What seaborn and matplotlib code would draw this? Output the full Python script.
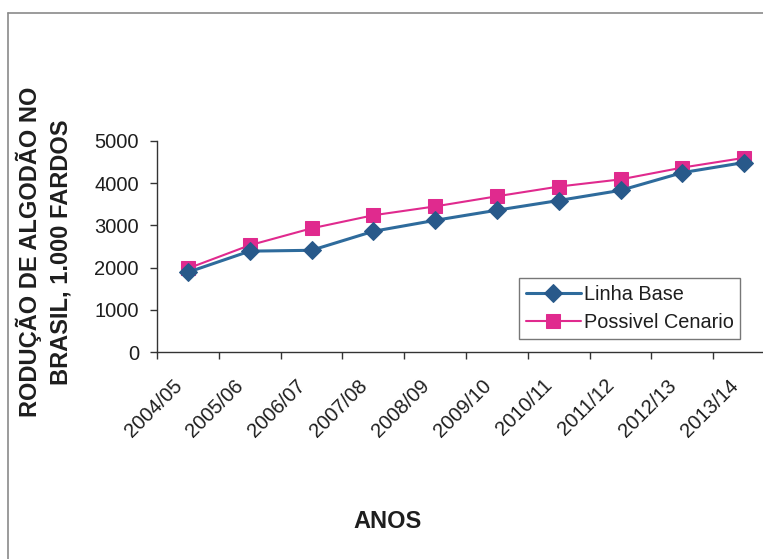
import numpy as np
import pandas as pd
import matplotlib
matplotlib.use("Agg")
import matplotlib.pyplot as plt
from matplotlib.lines import Line2D
import matplotlib.transforms as mtransforms
import seaborn as sns

# ---- data ----
safras = ["2004/05", "2005/06", "2006/07", "2007/08", "2008/09",
          "2009/10", "2010/11", "2011/12", "2012/13", "2013/14"]
linha_base = [1890, 2390, 2410, 2860, 3120, 3360, 3590, 3830, 4250, 4490]
possivel_cenario = [1980, 2530, 2930, 3240, 3450, 3690, 3920, 4090, 4370, 4600]
y_ticks = [0, 1000, 2000, 3000, 4000, 5000]
serie_nomes = ["Linha Base", "Possivel Cenario"]
y_label = "RODUÇÃO DE ALGODÃO NO\nBRASIL, 1.000 FARDOS"
x_label = "ANOS"

sns.set_style("white")
plt.rcParams["font.family"] = ["Liberation Sans", "DejaVu Sans"]

W, H = 763, 559
fig = plt.figure(figsize=(W / 100, H / 100), dpi=100)
fig.patch.set_facecolor("white")

# axes in pixel geometry
x0, x1 = 157, 775
y0, y1 = 352, 141
ax = fig.add_axes([x0 / W, 1 - y0 / H, (x1 - x0) / W, (y0 - y1) / H])
ax.set_facecolor("white")

txt = "#1e1e1e"
blue = "#2E6B9C"
blue_m = "#28598A"
mag = "#E02A8E"

df_b = pd.DataFrame({"Safra": safras, "Valor": linha_base})
df_c = pd.DataFrame({"Safra": safras, "Valor": possivel_cenario})

sns.lineplot(data=df_c, x="Safra", y="Valor", ax=ax, color=mag, linewidth=1.5,
             marker="s", markersize=9.5, markerfacecolor=mag, markeredgecolor=mag,
             sort=False, label=serie_nomes[1], zorder=3)
sns.lineplot(data=df_b, x="Safra", y="Valor", ax=ax, color=blue, linewidth=2.2,
             marker="D", markersize=8.8, markerfacecolor=blue_m, markeredgecolor=blue_m,
             sort=False, label=serie_nomes[0], zorder=4)

ax.set_xlim(-0.5, len(safras) - 0.5)
ax.set_ylim(0, 5000)
ax.set_yticks(y_ticks)
ax.set_yticklabels([str(v) for v in y_ticks], fontsize=14.5, color=txt)

ax.set_xticks(range(len(safras)))
ax.set_xticklabels(safras, fontsize=14.5, color=txt, rotation=45,
                   ha="right", va="center", rotation_mode="anchor")
ax.set_xticks(np.arange(-0.5, len(safras), 1.0), minor=True)
ax.tick_params(axis="x", which="major", length=0, pad=14)
ax.tick_params(axis="x", which="minor", length=5, width=1, color="#333333", direction="out", bottom=True)
ax.tick_params(axis="y", which="major", length=5, width=1, color="#333333", direction="out", left=True, pad=8)

offset = mtransforms.ScaledTranslation(-9 / 100, -11 / 100, fig.dpi_scale_trans)
for lbl in ax.get_xticklabels():
    lbl.set_transform(lbl.get_transform() + offset)

for s in ["top", "right"]:
    ax.spines[s].set_visible(False)
for s in ["left", "bottom"]:
    ax.spines[s].set_color("#333333")
    ax.spines[s].set_linewidth(1.0)

ax.set_xlabel("")
ax.set_ylabel("")

# axis titles
fig.text(388 / W, 1 - 522 / H, x_label, fontsize=17, fontweight="bold",
         color=txt, ha="center", va="center")
fig.text(44 / W, 1 - 252 / H, y_label, fontsize=17, fontweight="bold",
         color=txt, ha="center", va="center", rotation=90, linespacing=1.38,
         multialignment="center")

# legend (Linha Base first)
handles, labels = ax.get_legend_handles_labels()
order = [labels.index(n) for n in serie_nomes]
leg = ax.legend([handles[i] for i in order], [labels[i] for i in order],
                loc="lower left", bbox_to_anchor=((519 - x0) / (x1 - x0), (y0 - 339) / (y0 - y1)),
                borderaxespad=0, fontsize=14.3, frameon=True, fancybox=False,
                edgecolor="#555555", handlelength=2.75, handletextpad=0.15,
                borderpad=0.35, labelspacing=0.45, markerscale=1.0)
leg.get_frame().set_linewidth(1.0)
for t in leg.get_texts():
    t.set_color(txt)

# chart border (top and left visible)
fig.add_artist(Line2D([8 / W, 1.0], [1 - 13 / H, 1 - 13 / H], transform=fig.transFigure,
                      color="#8a8a8a", linewidth=1.2))
fig.add_artist(Line2D([8 / W, 8 / W], [1 - 13 / H, 0.0], transform=fig.transFigure,
                      color="#8a8a8a", linewidth=1.2))

fig.savefig("out.png", dpi=100, facecolor="white")
